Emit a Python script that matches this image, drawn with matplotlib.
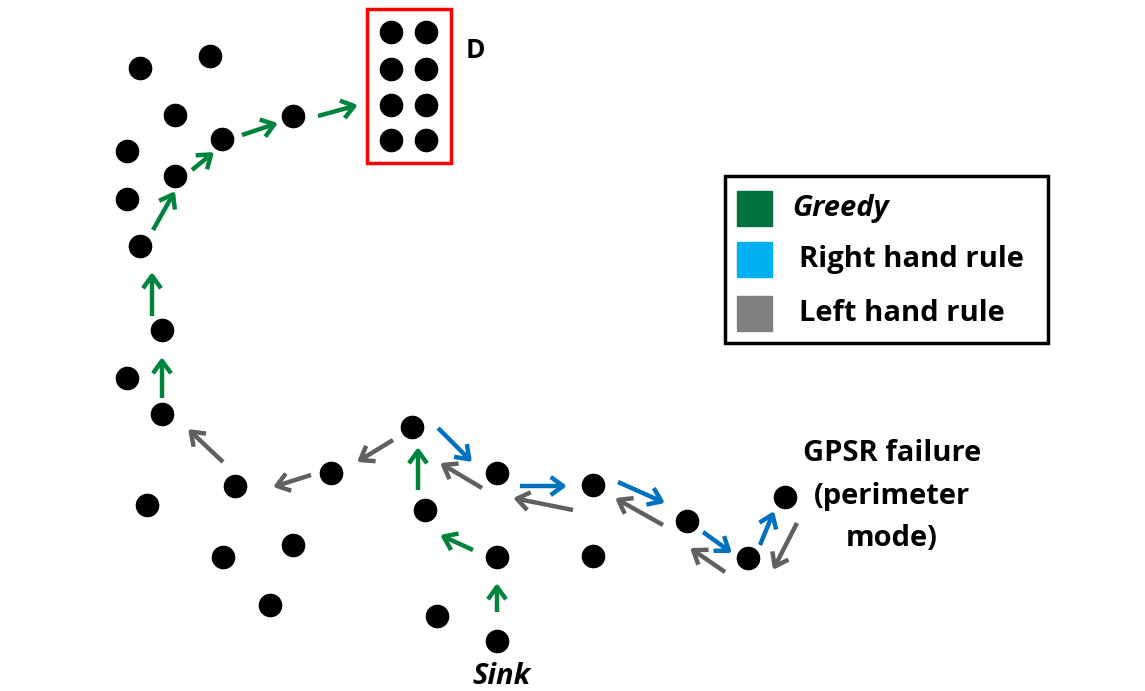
import matplotlib.pyplot as plt
from matplotlib.patches import FancyArrowPatch, Rectangle

# node positions (picture pixels, y down)
node_x = [140, 210, 175, 127, 127, 140, 175, 222, 293, 162, 127, 162, 235, 147,
          223, 293, 270, 331, 412, 425, 497, 497, 437, 497, 593, 593, 687, 748, 785]
node_y = [68, 56, 115, 151, 199, 246, 176, 139, 116, 330, 378, 414, 486, 505,
          557, 545, 605, 473, 427, 510, 473, 557, 616, 641, 485, 556, 521, 558, 497]

# destination cluster
cluster_x = [391, 426] * 4
cluster_y = [32, 32, 69, 69, 105, 105, 140, 140]

# arrows: (x0, y0, x1, y1)
greedy = [(497, 612, 497, 583), (473, 550, 440, 535), (418, 490, 418, 447),
          (162, 398, 162, 357), (152, 316, 152, 272), (153, 230, 175, 191),
          (192, 170, 214, 152), (242, 135, 278, 123), (318, 116, 358, 105)]
right_hand = [(438, 428, 472, 462), (520, 486, 567, 486), (618, 482, 665, 503),
              (703, 532, 732, 553), (760, 545, 774, 511)]
left_hand = [(223, 462, 188, 429), (311, 475, 273, 487), (393, 440, 357, 462),
             (482, 488, 440, 463), (573, 510, 513, 498), (663, 525, 615, 498),
             (725, 572, 690, 548), (797, 523, 773, 570)]

legend_labels = ['Greedy', 'Right hand rule', 'Left hand rule']
legend_colors = ['#00703C', '#00B0F0', '#808080']
arrow_colors = {'greedy': '#00843D', 'right': '#0070C0', 'left': '#606060'}

plt.rcParams['font.family'] = ['Open Sans', 'DejaVu Sans']

fig = plt.figure(figsize=(11.45, 6.91), dpi=100)
ax = fig.add_axes([0, 0, 1, 1])
ax.set_xlim(0, 1145)
ax.set_ylim(691, 0)
ax.axis('off')


def draw_arrows(segs, color):
    for x0, y0, x1, y1 in segs:
        a = FancyArrowPatch((x0, y0), (x1, y1),
                            arrowstyle='->,head_length=9,head_width=6.5',
                            color=color, lw=3.2, mutation_scale=1,
                            shrinkA=0, shrinkB=0, capstyle='butt')
        ax.add_patch(a)


draw_arrows(greedy, arrow_colors['greedy'])
draw_arrows(right_hand, arrow_colors['right'])
draw_arrows(left_hand, arrow_colors['left'])

ax.plot(node_x, node_y, 'o', color='black', markersize=16, zorder=5)
ax.plot(cluster_x, cluster_y, 'o', color='black', markersize=16, zorder=5)

ax.add_patch(Rectangle((367, 9), 84, 154, fill=False, edgecolor='#FF0000', lw=2.5))
ax.text(466, 50, 'D', fontsize=19, fontweight='bold', va='center', ha='left')

# legend box
ax.add_patch(Rectangle((725, 176), 323, 167, fill=False, edgecolor='black', lw=2.5))
box_y = [191, 242, 296]
text_x = [792, 799, 799]
for i, lab in enumerate(legend_labels):
    ax.add_patch(Rectangle((737, box_y[i]), 35, 35, color=legend_colors[i]))
    ax.text(text_x[i], box_y[i] + 17, lab, fontsize=21, fontweight='bold',
            style='italic' if i == 0 else 'normal', va='center', ha='left')

ax.text(892, 496, 'GPSR failure\n(perimeter\nmode)', fontsize=21, fontweight='bold',
        ha='center', va='center', linespacing=1.6)
ax.text(501, 677, 'Sink', fontsize=21, fontweight='bold', style='italic',
        ha='center', va='center')

fig.savefig('out.png', dpi=100)
